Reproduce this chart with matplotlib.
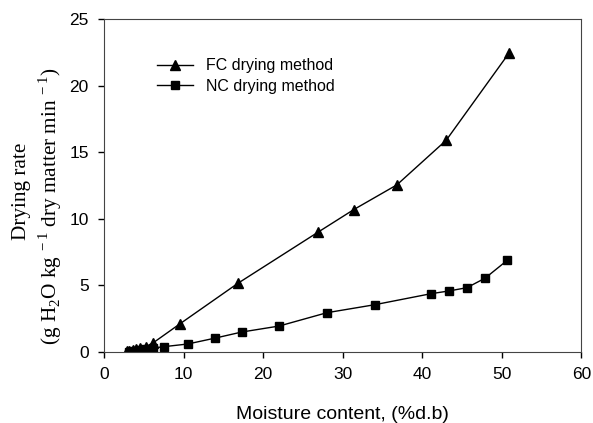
import numpy as np
import matplotlib.pyplot as plt

plt.rcParams['mathtext.fontset'] = 'custom'
plt.rcParams['mathtext.rm'] = 'Liberation Serif'

# FC drying method
fc_moisture = [2.9, 3.2, 3.6, 4.0, 4.5, 5.3, 6.2, 9.5, 16.8, 26.9, 31.4, 36.8, 43.0, 50.9]
fc_rate = [0.05, 0.1, 0.15, 0.2, 0.3, 0.4, 0.7, 2.1, 5.15, 9.0, 10.7, 12.55, 15.9, 22.45]

# NC drying method
nc_moisture = [3.2, 3.5, 4.0, 4.5, 5.2, 6.2, 7.5, 10.5, 14.0, 17.3, 22.0, 28.0, 34.0, 41.1, 43.3, 45.6, 47.9, 50.7]
nc_rate = [0.02, 0.05, 0.1, 0.15, 0.2, 0.3, 0.4, 0.6, 1.05, 1.5, 1.95, 2.95, 3.55, 4.38, 4.58, 4.83, 5.55, 6.9]

xticks = [0, 10, 20, 30, 40, 50, 60]
yticks = [0, 5, 10, 15, 20, 25]

fig = plt.figure(figsize=(5.93, 4.23), dpi=100)
ax = fig.add_axes([0.1754, 0.1678, 0.8052, 0.7872])

ax.plot(fc_moisture, fc_rate, color='black', lw=1, marker='^', ms=7.5, label='FC drying method')
ax.plot(nc_moisture, nc_rate, color='black', lw=1, marker='s', ms=6, label='NC drying method')

ax.set_xlim(0, 60)
ax.set_ylim(0, 25)
ax.set_xticks(xticks)
ax.set_yticks(yticks)
ax.tick_params(direction='out', length=4, width=1, labelsize=12.5, pad=7)
for lab in ax.get_xticklabels() + ax.get_yticklabels():
    lab.set_family('Liberation Sans')
for s in ax.spines.values():
    s.set_color('#444444')

ax.set_xlabel('Moisture content, (%d.b)', family='Liberation Sans', fontsize=14, labelpad=17)

# y label drawn as two lines, the second one sits a bit lower in the original
fig.text(0.037, 0.5485, 'Drying rate', rotation=90, ha='center', va='center',
         family='Liberation Serif', fontsize=15.3)
fig.text(0.0843, 0.513, r'(g H$_2$O kg$^{\,-1}$ dry matter min$^{\,-1}$)', rotation=90,
         ha='center', va='center', family='Liberation Serif', fontsize=15.3)

leg = ax.legend(loc='upper left', bbox_to_anchor=(0.08, 0.925), frameon=False,
                prop={'family': 'Liberation Sans', 'size': 11.5}, handlelength=2.3,
                labelspacing=0.35)

fig.savefig('out.png', dpi=100)
